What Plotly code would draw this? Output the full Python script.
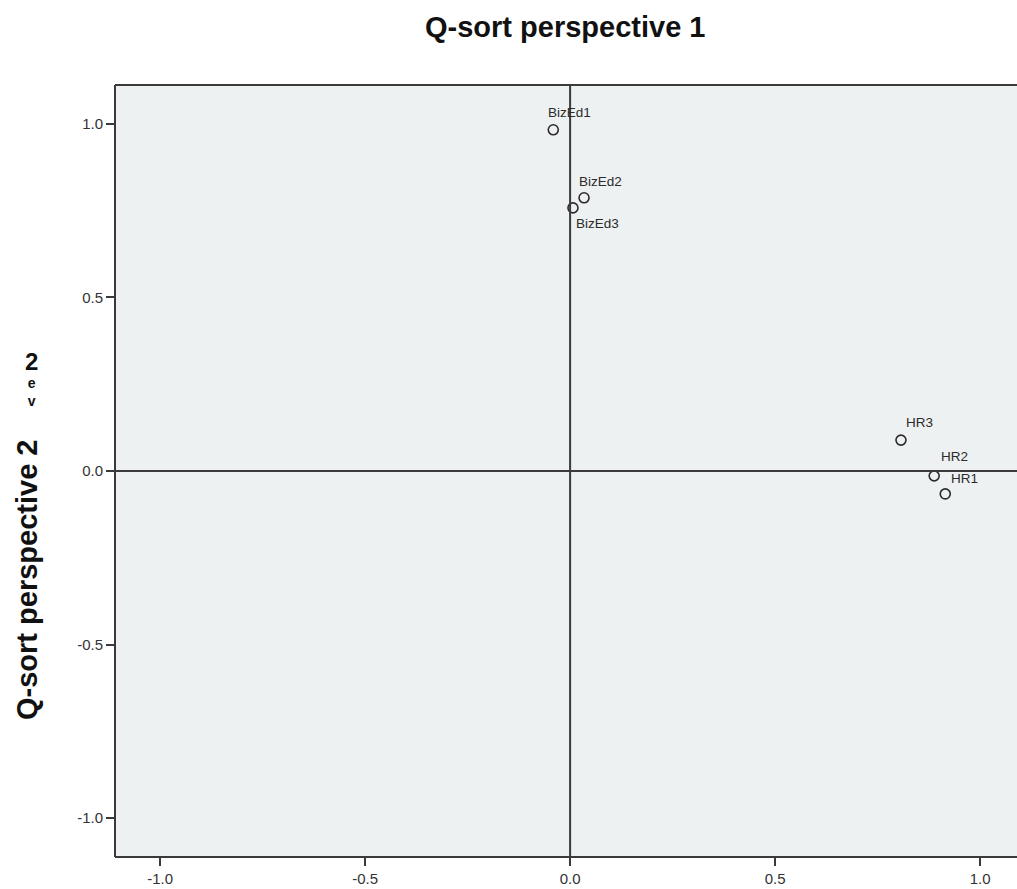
import plotly.graph_objects as go

labels = ["BizEd1", "BizEd2", "BizEd3", "HR3", "HR2", "HR1"]
persp1 = [-0.041, 0.034, 0.007, 0.807, 0.888, 0.915]
persp2 = [0.983, 0.787, 0.758, 0.089, -0.014, -0.066]
tick_vals = [-1.0, -0.5, 0.0, 0.5, 1.0]
tick_text = ["-1.0", "-0.5", "0.0", "0.5", "1.0"]

# label offsets in pixels (dx right, dy up)
label_offsets = {
    "BizEd1": (16, 17), "BizEd2": (16, 16), "BizEd3": (25, -16),
    "HR3": (19, 18), "HR2": (20, 19), "HR1": (19, 15),
}

XR = [-1.11, 1.09]
YR = [-1.112, 1.112]
LINE = "#3a3a3a"
FONT = "Liberation Sans, Arial"

fig = go.Figure()
fig.add_trace(go.Scatter(
    x=persp1, y=persp2, mode="markers",
    marker=dict(symbol="circle-open", size=10, color="#2b2b2b", line=dict(width=1.6)),
    hoverinfo="text", text=labels, showlegend=False,
))

for lab, xv, yv in zip(labels, persp1, persp2):
    dx, dy = label_offsets[lab]
    fig.add_annotation(x=xv, y=yv, text=lab, showarrow=False,
                       xanchor="center", yanchor="middle", xshift=dx, yshift=dy,
                       font=dict(family=FONT, size=13.5, color="#2b2b2b"))

# zero lines
fig.add_shape(type="line", x0=0, x1=0, y0=YR[0], y1=YR[1], xref="x", yref="y",
              line=dict(color=LINE, width=2))
fig.add_shape(type="line", x0=XR[0], x1=XR[1], y0=0, y1=0, xref="x", yref="y",
              line=dict(color=LINE, width=2))
# frame: left, top, bottom
fig.add_shape(type="line", x0=0, x1=0, y0=0, y1=1, xref="paper", yref="paper",
              line=dict(color=LINE, width=2))
fig.add_shape(type="line", x0=0, x1=1, y0=1, y1=1, xref="paper", yref="paper",
              line=dict(color=LINE, width=2))
fig.add_shape(type="line", x0=0, x1=1, y0=0, y1=0, xref="paper", yref="paper",
              line=dict(color=LINE, width=2))

fig.add_annotation(text="<b>Q-sort perspective 1</b>", xref="paper", yref="paper",
                   x=(565 - 115) / (1017 - 115), y=1, yshift=58, showarrow=False,
                   xanchor="center", yanchor="middle",
                   font=dict(family=FONT, size=29, color="#111111"))
fig.add_annotation(text="<b>Q-sort perspective 2</b>", xref="paper", yref="paper",
                   x=0, xshift=-88, y=(857 - 580) / (857 - 85), showarrow=False,
                   textangle=-90, xanchor="center", yanchor="middle",
                   font=dict(family=FONT, size=29, color="#111111"))
# fragment of the axis title seen above it in the reference (one stacked text)
fig.add_annotation(text="<b><span style='font-size:24px'>2</span><br>e<br>v</b>",
                   xref="paper", yref="paper",
                   x=0, xshift=-84, y=(857 - 346) / (857 - 85), showarrow=False,
                   xanchor="center", yanchor="top",
                   font=dict(family=FONT, size=14, color="#111111"))

axis_common = dict(showgrid=False, zeroline=False, showline=False,
                   ticks="outside", ticklen=8, tickwidth=1.5, tickcolor=LINE,
                   tickvals=tick_vals, ticktext=tick_text,
                   tickfont=dict(family=FONT, size=15, color="#333333"),
                   fixedrange=True)
fig.update_xaxes(range=XR, **axis_common)
fig.update_yaxes(range=YR, **axis_common)

fig.update_layout(
    width=1017, height=889,
    margin=dict(l=115, r=0, t=85, b=32),
    paper_bgcolor="white", plot_bgcolor="#eef1f2",
    showlegend=False,
)

fig.write_html("out.html", config={"displayModeBar": False},
               post_script="document.body.style.margin='0';document.body.style.overflow='hidden';")
